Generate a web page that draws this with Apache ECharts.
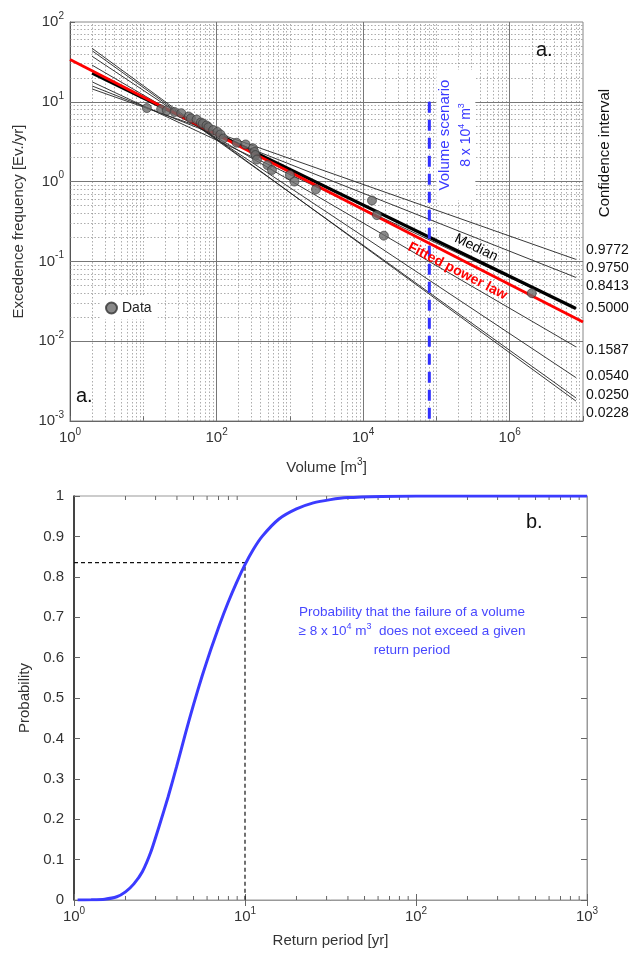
<!DOCTYPE html>
<html>
<head>
<meta charset="utf-8">
<script src="https://cdn.jsdelivr.net/npm/echarts@6/dist/echarts.min.js"></script>
<style>
  html, body { margin: 0; padding: 0; background: #fff; }
  #chart { width: 635px; height: 954px; }
</style>
</head>
<body>
<div id="chart"></div>
<script>
// --- panel a: observed events (volume m3, exceedance frequency ev/yr)
const volumes = [11.2, 17.5, 21, 26.7, 33, 41.6, 44.7, 53.5, 61, 65, 73, 77.6, 90, 103, 113, 124,
  188, 249, 314, 329, 340, 356, 495, 570, 1000, 1155, 2270, 13200, 15400, 19200, 2.0e6]
const frequencies = [8.35, 8.05, 7.8, 7.45, 7.2, 6.55, 6.2, 6.0, 5.5, 5.35, 5.05, 4.8, 4.43, 4.19, 3.9, 3.47,
  3.07, 2.92, 2.61, 2.35, 2.15, 1.89, 1.61, 1.40, 1.21, 1.0, 0.80, 0.58, 0.38, 0.21, 0.040]

// fitted power law, over the whole axis
const fitVolumes = [1, 1e7]
const fitFrequencies = [34, 0.0174]

// median and confidence curves run from V = 2 to V = 8e6
const curveVolumes = [2, 8e6]
const medianFrequencies = [22.9, 0.0257]
const confLevels = ['0.9772', '0.9750', '0.8413', '0.5000', '0.1587', '0.0540', '0.0250', '0.0228']
const confStart = [14.5, 15.8, 17.8, null, 28.8, 37.2, 43.7, 46.8]
const confEnd = [0.106, 0.063, 0.0257, null, 0.0085, 0.0035, 0.00195, 0.00178]

const scenarioVolume = 8e4
const scenarioFreq = [10, 0.001]

// --- panel b: probability vs return period
const returnPeriods = [1.05, 1.26, 1.51, 1.78, 2.0, 2.24, 2.51, 2.82, 3.16, 3.55, 3.98, 4.47, 5.01, 5.62,
  6.31, 7.08, 7.94, 8.91, 10, 11.2, 12.6, 15.8, 20, 25.1, 31.6, 39.8, 63.1, 100, 1000]
const probabilities = [0, 0.0005, 0.002, 0.008, 0.02, 0.04, 0.07, 0.12, 0.185, 0.255, 0.33, 0.41, 0.485, 0.555,
  0.62, 0.68, 0.735, 0.785, 0.83, 0.868, 0.9, 0.943, 0.968, 0.983, 0.991, 0.996, 0.999, 1, 1]
const markedPeriod = 10
const markedProbability = 0.835

const FONT = 'Liberation Sans, Arial, sans-serif'
const TXT = '#333'

// superscript styling for 10^n labels
const supRich = {
  b: { fontSize: 15, lineHeight: 22, color: TXT, fontFamily: FONT },
  s: { fontSize: 10, lineHeight: 10, verticalAlign: 'top', color: TXT, fontFamily: FONT }
}

function pow10 (v) {
  const e = Math.round(Math.log10(v))
  return '{b|10}{s|' + e + '}'
}

function zip (a, b) {
  return a.map((v, i) => [v, b[i]])
}

// log grid positions (2..9 x 10^k)
function minorValues (k0, k1) {
  const out = []
  for (let k = k0; k < k1; k++) {
    for (let n = 2; n <= 9; n++) out.push(n * Math.pow(10, k))
  }
  return out
}

const dotted = { color: '#8a8a8a', width: 0.7, type: [1.5, 2] }
const solid = { color: '#777', width: 1, type: 'solid' }

const gridMarks = []
minorValues(0, 7).forEach(v => gridMarks.push({ xAxis: v, lineStyle: dotted }))
;[10, 1e3, 1e5].forEach(v => gridMarks.push({ xAxis: v, lineStyle: dotted }))
;[1e2, 1e4, 1e6].forEach(v => gridMarks.push({ xAxis: v, lineStyle: solid }))
minorValues(-3, 2).forEach(v => gridMarks.push({ yAxis: v, lineStyle: dotted }))
;[0.01, 0.1, 1, 10].forEach(v => gridMarks.push({ yAxis: v, lineStyle: solid }))

const confSeries = confLevels.map((lvl, i) => {
  if (confStart[i] === null) return null
  return {
    name: 'CI ' + lvl,
    type: 'line',
    xAxisIndex: 0,
    yAxisIndex: 0,
    data: zip(curveVolumes, [confStart[i], confEnd[i]]),
    symbol: 'none',
    lineStyle: { color: '#222', width: 0.9 },
    z: 3,
    silent: true
  }
}).filter(Boolean)

const chart = echarts.init(document.getElementById('chart'))

const option = {
  animation: false,
  textStyle: { fontFamily: FONT },
  grid: [
    { left: 70, top: 22, width: 513, height: 399, show: true, borderColor: '#888', borderWidth: 1 },
    { left: 74, top: 496, width: 513, height: 404, show: true, borderColor: '#999', borderWidth: 1 }
  ],
  legend: {
    data: [{ name: 'Data', icon: 'circle' }],
    left: 100,
    top: 297,
    itemWidth: 11,
    itemHeight: 11,
    itemGap: 4,
    padding: [4, 6, 4, 5],
    backgroundColor: '#fff',
    textStyle: { fontSize: 14, color: '#222', fontFamily: FONT }
  },
  xAxis: [
    {
      type: 'log', gridIndex: 0, min: 1, max: 1e7, splitNumber: 7,
      name: '{b|Volume [m}{s|3}{b|]}', nameLocation: 'middle', nameGap: 36,
      nameTextStyle: { rich: supRich },
      axisLine: { lineStyle: { color: '#666' } },
      axisTick: { inside: true, length: 5, lineStyle: { color: '#666' } },
      splitLine: { show: false },
      axisLabel: {
        margin: 6,
        rich: supRich,
        formatter: v => (Math.round(Math.log10(v)) % 2 === 0 ? pow10(v) : '')
      }
    },
    {
      type: 'log', gridIndex: 1, min: 1, max: 1000, splitNumber: 3,
      name: 'Return period [yr]', nameLocation: 'middle', nameGap: 33,
      nameTextStyle: { fontSize: 15, color: TXT },
      axisLine: { lineStyle: { color: '#666' } },
      axisTick: { inside: true, length: 6, lineStyle: { color: '#666' } },
      splitLine: { show: false },
      axisLabel: { margin: 6, rich: supRich, formatter: v => pow10(v) }
    },
    {
      type: 'log', gridIndex: 1, min: 1, max: 1000, splitNumber: 3, position: 'top',
      axisLine: { lineStyle: { color: '#999' } },
      axisTick: { inside: true, length: 6, lineStyle: { color: '#666' } },
      splitLine: { show: false },
      axisLabel: { show: false }
    }
  ],
  yAxis: [
    {
      type: 'log', gridIndex: 0, min: 0.001, max: 100, splitNumber: 5,
      name: 'Excedence frequency [Ev./yr]', nameLocation: 'middle', nameGap: 44,
      nameTextStyle: { fontSize: 15, color: TXT },
      axisLine: { lineStyle: { color: '#555' } },
      axisTick: { inside: true, length: 5, lineStyle: { color: '#666' } },
      splitLine: { show: false },
      axisLabel: { margin: 6, rich: supRich, formatter: v => pow10(v) }
    },
    {
      type: 'value', gridIndex: 1, min: 0, max: 1, interval: 0.1,
      name: 'Probability', nameLocation: 'middle', nameGap: 28,
      nameTextStyle: { fontSize: 15, color: TXT },
      axisLine: { lineStyle: { color: '#222', width: 1.6 } },
      axisTick: { inside: true, length: 6, lineStyle: { color: '#666' } },
      splitLine: { show: false },
      axisLabel: {
        fontSize: 15, color: TXT, margin: 10,
        formatter: v => (v === 0 || v === 1 ? String(v) : v.toFixed(1))
      }
    },
    {
      type: 'value', gridIndex: 1, min: 0, max: 1, interval: 0.1, position: 'right',
      axisLine: { show: true, lineStyle: { color: '#999' } },
      axisTick: { inside: true, length: 6, lineStyle: { color: '#666' } },
      splitLine: { show: false },
      axisLabel: { show: false }
    }
  ],
  series: [
    {
      name: 'grid',
      type: 'line',
      xAxisIndex: 0,
      yAxisIndex: 0,
      data: [],
      z: 1,
      silent: true,
      markLine: {
        // markLine defaults to z 5, keep the grid under the curves
        z: 1,
        silent: true,
        symbol: ['none', 'none'],
        label: { show: false },
        data: gridMarks
      }
    },
    ...confSeries,
    {
      name: 'Median',
      type: 'line',
      xAxisIndex: 0,
      yAxisIndex: 0,
      data: zip(curveVolumes, medianFrequencies),
      symbol: 'none',
      lineStyle: { color: '#000', width: 3.2 },
      z: 4
    },
    {
      name: 'Fitted power law',
      type: 'line',
      xAxisIndex: 0,
      yAxisIndex: 0,
      data: zip(fitVolumes, fitFrequencies),
      symbol: 'none',
      lineStyle: { color: '#f00', width: 2.8 },
      z: 5
    },
    {
      name: 'Data',
      type: 'scatter',
      xAxisIndex: 0,
      yAxisIndex: 0,
      data: zip(volumes, frequencies),
      symbol: 'circle',
      symbolSize: 9,
      itemStyle: { color: '#6b6b6b', borderColor: '#333', borderWidth: 0.8 },
      z: 6
    },
    {
      name: 'Volume scenario',
      type: 'line',
      xAxisIndex: 0,
      yAxisIndex: 0,
      data: scenarioFreq.map(f => [scenarioVolume, f]),
      symbol: 'none',
      lineStyle: { color: '#3030ff', width: 3, type: [11, 7] },
      z: 7
    },
    {
      name: 'Probability',
      type: 'line',
      xAxisIndex: 1,
      yAxisIndex: 1,
      data: zip(returnPeriods, probabilities),
      symbol: 'none',
      smooth: 0.2,
      lineStyle: { color: '#3b3bff', width: 3 },
      z: 5
    },
    {
      name: 'marker',
      type: 'line',
      xAxisIndex: 1,
      yAxisIndex: 1,
      data: [[1, markedProbability], [markedPeriod, markedProbability], [markedPeriod, 0]],
      symbol: 'none',
      lineStyle: { color: '#111', width: 1.2, type: [4, 3] },
      z: 4
    },
    {
      // minor log ticks on the bottom and top edges of panel b
      name: 'minor ticks',
      type: 'custom',
      xAxisIndex: 1,
      yAxisIndex: 1,
      silent: true,
      data: minorValues(0, 3).map(v => [v, 0]),
      renderItem: (params, api) => {
        const v = api.value(0)
        const b = api.coord([v, 0])
        const t = api.coord([v, 1])
        return {
          type: 'group',
          children: [
            { type: 'line', shape: { x1: b[0], y1: b[1], x2: b[0], y2: b[1] - 4 }, style: { stroke: '#666', lineWidth: 1 } },
            { type: 'line', shape: { x1: t[0], y1: t[1], x2: t[0], y2: t[1] + 4 }, style: { stroke: '#666', lineWidth: 1 } }
          ]
        }
      }
    }
  ]
}

chart.setOption(option)

// annotations, placed through the axes
function logInterp (xs, ys, x) {
  const t = (Math.log10(x) - Math.log10(xs[0])) / (Math.log10(xs[1]) - Math.log10(xs[0]))
  return Math.pow(10, Math.log10(ys[0]) + t * (Math.log10(ys[1]) - Math.log10(ys[0])))
}

function lineLabel (xs, ys, at, offset, text, style) {
  const p = chart.convertToPixel({ gridIndex: 0 }, [at, logInterp(xs, ys, at)])
  const q = chart.convertToPixel({ gridIndex: 0 }, [at * 10, logInterp(xs, ys, at * 10)])
  const a = Math.atan2(q[1] - p[1], q[0] - p[0])
  return {
    type: 'text',
    x: p[0] + offset * Math.sin(a),
    y: p[1] - offset * Math.cos(a),
    rotation: -a,
    z: 20,
    style: Object.assign({ text, textAlign: 'center', textVerticalAlign: 'middle', font: '14px ' + FONT }, style)
  }
}

// graphic (zrender) rich text takes fill, not color
const blue = '#3a3aff'
const blueRich = {
  t: { fontSize: 14, lineHeight: 18, fill: blue, fontFamily: FONT },
  s: { fontSize: 9, lineHeight: 9, verticalAlign: 'top', fill: blue, fontFamily: FONT }
}
const noteBlue = '#4848ff'
const noteRich = {
  t: { fontSize: 13.5, lineHeight: 19, fill: noteBlue, fontFamily: FONT },
  s: { fontSize: 9, lineHeight: 9, verticalAlign: 'top', fill: noteBlue, fontFamily: FONT }
}

const sx = chart.convertToPixel({ gridIndex: 0 }, [scenarioVolume, 1])[0]

const graphics = [
  { type: 'text', left: 536, top: 40, z: 20, style: { text: 'a.', font: '20px ' + FONT, fill: '#111' } },
  { type: 'text', left: 76, top: 386, z: 20, style: { text: 'a.', font: '20px ' + FONT, fill: '#111' } },
  { type: 'text', left: 526, top: 512, z: 20, style: { text: 'b.', font: '20px ' + FONT, fill: '#111' } },
  lineLabel(curveVolumes, medianFrequencies, 3e5, 11, 'Median', { fill: '#000' }),
  lineLabel(fitVolumes, fitFrequencies, 2.3e5, -12, 'Fitted power law', { fill: '#f00', font: 'bold 14px ' + FONT }),
  { type: 'rect', shape: { x: sx + 7, y: 70, width: 39, height: 130 }, style: { fill: '#fff' }, z: 15 },
  { type: 'text', x: sx + 16, y: 135, rotation: Math.PI / 2, z: 20, style: { text: 'Volume scenario', textAlign: 'center', textVerticalAlign: 'middle', font: '15px ' + FONT, fill: blue } },
  { type: 'text', x: sx + 37, y: 135, rotation: Math.PI / 2, z: 20, style: { text: '{t|8 x 10}{s|4}{t| m}{s|3}', rich: blueRich, fill: blue, textAlign: 'center', textVerticalAlign: 'middle' } },
  { type: 'text', x: 605, y: 153, rotation: Math.PI / 2, z: 20, style: { text: 'Confidence interval', textAlign: 'center', textVerticalAlign: 'middle', font: '15px ' + FONT, fill: '#111' } },
  {
    type: 'text', x: 412, y: 603, z: 20,
    style: {
      text: '{t|Probability that the failure of a volume}\n{t|≥ 8 x 10}{s|4}{t| m}{s|3}{t|  does not exceed a given}\n{t|return period}',
      rich: noteRich,
      fill: noteBlue,
      textAlign: 'center'
    }
  }
]

const labelTops = [250, 268, 286, 308, 350, 376, 395, 413]
confLevels.forEach((lvl, i) => {
  graphics.push({ type: 'text', x: 586, y: labelTops[i], z: 20, style: { text: lvl, textVerticalAlign: 'middle', font: '14px ' + FONT, fill: '#111' } })
})

chart.setOption({ graphic: graphics })
</script>
</body>
</html>
